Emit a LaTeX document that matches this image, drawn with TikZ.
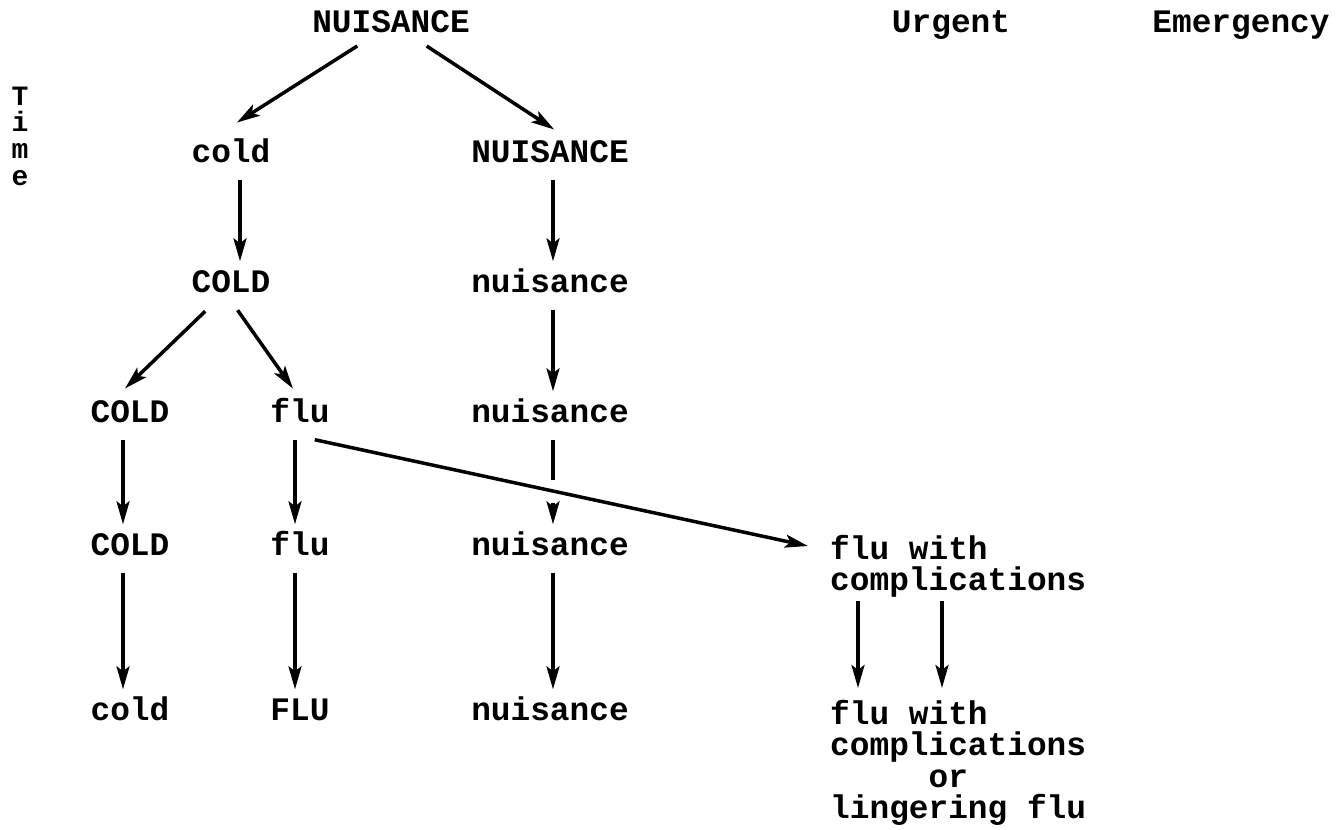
\documentclass[tikz,border=0pt]{standalone}
\usepackage{fontspec}
\setmonofont{Liberation Mono}
\usetikzlibrary{arrows.meta,positioning}
\tikzstyle{word}  =[font=\ttfamily\bfseries\fontsize{32.8}{31.5}\selectfont,
                    inner sep=3pt, text height=21pt, text depth=6pt]
\tikzstyle{block} =[font=\ttfamily\bfseries\fontsize{32.8}{31.5}\selectfont,
                    inner sep=3pt, align=left, anchor=north west]
\tikzstyle{stack} =[font=\ttfamily\bfseries\fontsize{28}{26.7}\selectfont,
                    inner sep=0pt, align=center]
\tikzstyle{edge}  =[-{Stealth[length=23pt,width=13pt,inset=5pt]},
                    line width=3.5pt, shorten <=8pt, shorten >=7pt]

\begin{document}
\begin{tikzpicture}[x=1pt, y=-1pt, node distance=130pt, on grid]
    \useasboundingbox (0,0) rectangle (1337,829);
    % headings
    \node[word] (top) at (391,25) {NUISANCE};
    \node[word] (urgent) at (951,25) {Urgent};
    \node[word] (emerg) at (1241,25) {Emergency};
    \node[stack] (time) at (20,136) {T\\i\\m\\e};
    % left branch
    \node[word] (cold1) at (231,155) {cold};
    \node[word] (cold2) [below=of cold1] {COLD};
    \node[word] (cold3) at (130,415) {COLD};
    \node[word] (cold4) [below=133pt of cold3] {COLD};
    \node[word] (cold5) [below=165pt of cold4] {cold};
    \node[word] (flu3) at (300,415) {flu};
    \node[word] (flu4) [below=133pt of flu3] {flu};
    \node[word] (flu5) [below=165pt of flu4] {FLU};
    % right branch
    \node[word] (nuis1) at (550,155) {NUISANCE};
    \node[word] (nuis2) [below=of nuis1] {nuisance};
    \node[word] (nuis3) [below=of nuis2] {nuisance};
    \node[word] (nuis4) [below=133pt of nuis3] {nuisance};
    \node[word] (nuis5) [below=165pt of nuis4] {nuisance};
    % complications
    \node[block] (compl) at (827,532) {flu with\\complications};
    \node[block] (lingering) at (827,697)
        {flu with\\complications\\\phantom{xxxxx}or\\lingering flu};
    \coordinate (gapa) at (553,480);
    \coordinate (gapb) at (553,503);

    \draw[edge] ([xshift=-27pt]top.south) -- ([yshift=12pt]cold1.north);
    \draw[edge] ([xshift=29pt]top.south) -- ([xshift=10pt,yshift=5pt]nuis1.north);
    \draw[edge] ([xshift=9pt]cold1.south) -- ([xshift=9pt]cold2.north);
    \draw[edge] ([xshift=3pt]nuis1.south) -- ([xshift=3pt]nuis2.north);
    \draw[edge] ([xshift=-20pt,yshift=-4pt]cold2.south) -- ([xshift=-10pt,yshift=5pt]cold3.north);
    \draw[edge] ([xshift=2pt,yshift=-2pt]cold2.south) -- ([xshift=-3pt,yshift=4pt]flu3.north);
    \draw[edge] ([xshift=3pt]nuis2.south) -- ([xshift=3pt]nuis3.north);
    \draw[edge] ([xshift=-7pt]cold3.south) -- ([xshift=-7pt]cold4.north);
    \draw[edge] ([xshift=-5pt]flu3.south) -- ([xshift=-5pt]flu4.north);
    \draw[edge, -, shorten >=0pt] ([xshift=3pt]nuis3.south) -- (gapa);
    \draw[edge, shorten <=0pt] (gapb) -- ([xshift=3pt]nuis4.north);
    \draw[edge] ([xshift=-7pt]cold4.south) -- ([xshift=-7pt]cold5.north);
    \draw[edge] ([xshift=-5pt]flu4.south) -- ([xshift=-5pt]flu5.north);
    \draw[edge] ([xshift=3pt]nuis4.south) -- ([xshift=3pt]nuis5.north);
    \draw[edge, shorten <=0pt, shorten >=0pt]
        ([xshift=-18pt,yshift=-8pt]flu3.south east) -- ([xshift=-19pt,yshift=-14pt]compl.north west);
    \draw[edge, shorten <=0pt, shorten >=9pt]
        ([xshift=31pt]compl.south west) -- ([xshift=31pt]lingering.north west);
    \draw[edge, shorten <=0pt, shorten >=9pt]
        ([xshift=115pt]compl.south west) -- ([xshift=115pt]lingering.north west);
\end{tikzpicture}
\end{document}
